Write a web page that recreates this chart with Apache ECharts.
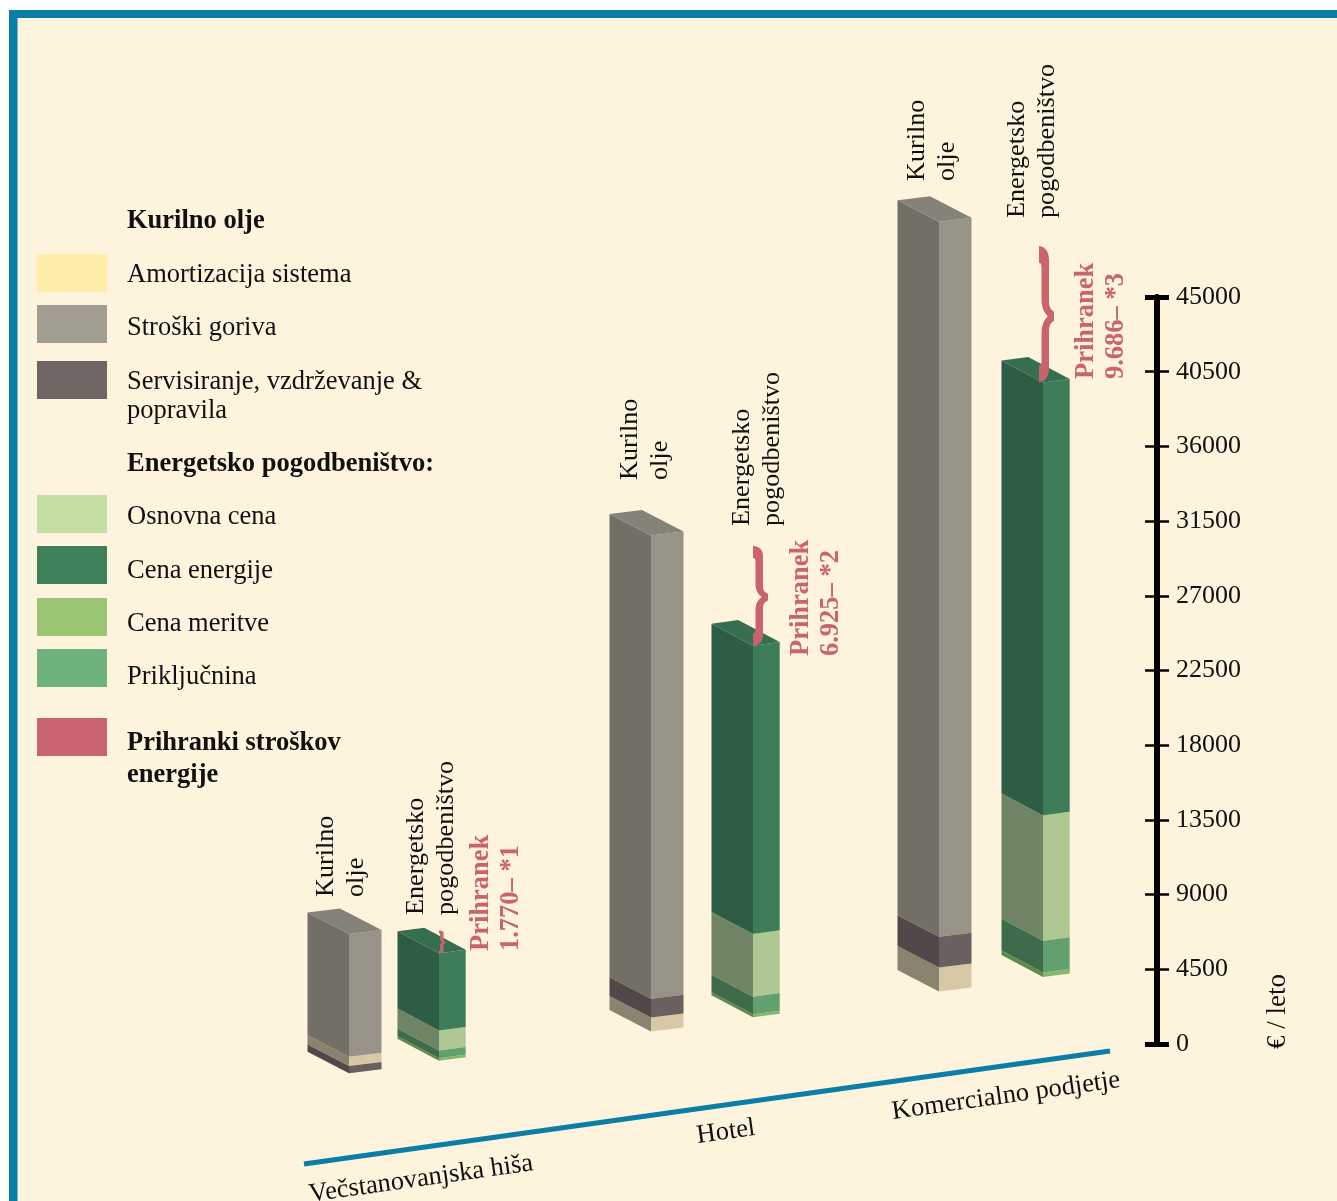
<!DOCTYPE html>
<html><head><meta charset="utf-8">
<style>html,body{margin:0;padding:0;background:#fff}#c{width:1337px;height:1201px}</style>
<script src="https://cdn.jsdelivr.net/npm/echarts@6/dist/echarts.min.js"></script>
</head><body><div id="c"></div>
<script>
// ---- data ----
const buildings = ['Večstanovanjska hiša', 'Hotel', 'Komercialno podjetje'];
const oilSlots = [0.49, 3.51, 6.39];
const contractSlots = [1.39, 4.53, 7.43];
const braceSlots = [1.39, 4.53, 7.39];
const amortizacija = [560, 840, 1450];
const gorivo = [7390, 27910, 43070];
const servis = [440, 1130, 1850];
const osnovna = [1200, 3780, 7550];
const energija = [4660, 17370, 26080];
const meritev = [160, 180, 280];
const prikljucnina = [460, 1060, 1910];
const braceHeights = [1370, 6020, 8230];
const savingsLabels = ['1.770', '6.925', '9.686'];
const yTicks = [0, 4500, 9000, 13500, 18000, 22500, 27000, 31500, 36000, 40500, 45000];

// ---- styling ----
const FONT = '"Liberation Serif","Times New Roman",serif';
const SIZE = 26.5;
const BLUE = '#0A7EA4', PINK = '#C9636F', CREAM = '#FEF3DC', INK = '#111';
const OIL = { left: 41.5, drop: 21.5, right: 32.5, rise: 4 };
const CONTRACT = { left: 41.5, drop: 22, right: 26.7, rise: 3.6 };
const GROUND_SLOPE = -0.1386, GROUND_X = 349, GROUND_DROP = 29.3;

const parts = {
  amort: { name: 'Amortizacija sistema', legend: '#FEECA8', front: '#D8C9A6', side: '#8A8370', top: '#A8A088', vals: amortizacija },
  fuel: { name: 'Stroški goriva', legend: '#A39E92', front: '#979388', side: '#726F67', top: '#85827A', vals: gorivo },
  serv: { name: 'Servisiranje, vzdrževanje & popravila', legend: '#706664', front: '#6A605F', side: '#514949', top: '#5E5554', vals: servis },
  base: { name: 'Osnovna cena', legend: '#C4DDA3', front: '#AFC893', side: '#6E8465', top: '#8FA67C', vals: osnovna },
  ener: { name: 'Cena energije', legend: '#3E8059', front: '#3E7D59', side: '#2D5D44', top: '#366F50', vals: energija },
  mete: { name: 'Cena meritve', legend: '#9BC775', front: '#85B96A', side: '#5E8A4C', top: '#72A05B', vals: meritev },
  conn: { name: 'Priključnina', legend: '#6FB27D', front: '#63A06F', side: '#3F6B4A', top: '#50855C', vals: prikljucnina }
};
const oilOrder = [['serv', 'amort', 'fuel'], ['amort', 'serv', 'fuel'], ['amort', 'serv', 'fuel']];
const contractOrder = ['mete', 'conn', 'base', 'ener'];

// build [slot, from, to, isTop, kind] rows per part
const rows = {};
Object.keys(parts).forEach(k => rows[k] = []);
function stack(order, i, slot, kind) {
  let sum = 0;
  order.forEach((k, j) => {
    const v = parts[k].vals[i];
    rows[k].push([slot, sum, sum + v, j === order.length - 1 ? 1 : 0, kind]);
    sum += v;
  });
  return sum;
}
const contractTotals = [];
buildings.forEach((b, i) => {
  stack(oilOrder[i], i, oilSlots[i], 0);
  contractTotals.push(stack(contractOrder, i, contractSlots[i], 1));
});

function groundShift(x) { return GROUND_DROP + GROUND_SLOPE * (x - GROUND_X); }

function boxRenderer(p) {
  return function (params, api) {
    const g = api.value(4) ? CONTRACT : OIL;
    const a = api.coord([api.value(0), api.value(1)]);
    const b = api.coord([api.value(0), api.value(2)]);
    const cx = a[0], sh = groundShift(cx), y0 = a[1] + sh, y1 = b[1] + sh;
    const kids = [
      { type: 'polygon', shape: { points: [[cx - g.left, y1 - g.drop], [cx, y1], [cx, y0], [cx - g.left, y0 - g.drop]] }, style: { fill: p.side } },
      { type: 'polygon', shape: { points: [[cx, y1], [cx + g.right, y1 - g.rise], [cx + g.right, y0 - g.rise], [cx, y0]] }, style: { fill: p.front } }
    ];
    if (api.value(3)) kids.push({
      type: 'polygon',
      shape: { points: [[cx, y1], [cx - g.left, y1 - g.drop], [cx - g.left + g.right, y1 - g.drop - g.rise], [cx + g.right, y1 - g.rise]] },
      style: { fill: p.top }
    });
    return { type: 'group', children: kids };
  };
}

const BRACE = 'M0,0 C6,1 10,5 10,14 L10,55 C10,62 12,64 15,66 L15,75 C12,77 10,79 10,86 L10,122 C10,132 6,136 0,137 L0,120 C2,120 2.5,118 2.5,116 L2.5,88 C2.5,78 6,73 9,70.5 C6,68 2.5,63 2.5,53 L2.5,22 C2.5,19 2,17 0,17 Z';
function braceRenderer(params, api) {
  const a = api.coord([api.value(0), api.value(1)]);
  const b = api.coord([api.value(0), api.value(2)]);
  const corner = api.coord([contractSlots[params.dataIndex], 0])[0];
  const sh = groundShift(corner);
  const h = a[1] - b[1];
  return {
    type: 'path',
    shape: { pathData: BRACE, layout: 'cover', x: a[0], y: b[1] + sh, width: Math.min(15, h * 0.3), height: h },
    style: { fill: PINK }
  };
}

const seriesList = Object.keys(parts).map(k => ({
  type: 'custom', name: parts[k].name, coordinateSystem: 'cartesian2d',
  renderItem: boxRenderer(parts[k]), data: rows[k], itemStyle: { color: parts[k].legend },
  encode: { x: 0, y: 2 }, silent: true
}));
seriesList.push({
  type: 'custom', name: 'Prihranki stroškov energije', coordinateSystem: 'cartesian2d',
  renderItem: braceRenderer, itemStyle: { color: PINK }, silent: true, z: 5,
  data: buildings.map((b, i) => [braceSlots[i], contractTotals[i], contractTotals[i] + braceHeights[i]]),
  encode: { x: 0, y: 2 }
});

// ---- legend swatches; their labels sit in the text layer below ----
const legendTops = { amort: 254, fuel: 305, serv: 361, base: 495, ener: 546, mete: 598, conn: 649 };
const legends = Object.keys(parts).map(k => ({
  left: 37, top: legendTops[k], padding: 0, selectedMode: false,
  itemWidth: 70, itemHeight: 38, icon: 'rect',
  data: [{ name: parts[k].name, itemStyle: { color: parts[k].legend } }],
  formatter: () => ''
}));
legends.push({
  left: 37, top: 718, padding: 0, selectedMode: false, itemWidth: 70, itemHeight: 38, icon: 'rect',
  data: [{ name: 'Prihranki stroškov energije', itemStyle: { color: PINK } }],
  formatter: () => ''
});

// ---- text and frame ----
function text(x, y, str, o) {
  o = o || {};
  return {
    type: 'text', x, y, rotation: o.rot || 0, z: 20,
    style: {
      text: str, fill: o.fill || INK, align: o.align || 'left', verticalAlign: 'middle',
      lineHeight: o.lh || 30, font: (o.bold ? 'bold ' : '') + (o.size || SIZE) + 'px ' + FONT
    }
  };
}
const UP = Math.PI / 2, TILT = 0.14, ROT_SIZE = 26.2;
const graphics = [
  { type: 'rect', z: -10, shape: { x: 9, y: 10, width: 1328, height: 1191 }, style: { fill: CREAM } },
  { type: 'rect', z: -9, shape: { x: 9, y: 10, width: 1328, height: 8 }, style: { fill: BLUE } },
  { type: 'rect', z: -9, shape: { x: 9, y: 10, width: 8.5, height: 1191 }, style: { fill: BLUE } },
  { type: 'line', z: 1, shape: { x1: 304, y1: 1164, x2: 1110, y2: 1051 }, style: { stroke: BLUE, lineWidth: 5 } },
  text(127, 221, 'Kurilno olje', { bold: true }),
  text(127, 275, parts.amort.name),
  text(127, 328, parts.fuel.name),
  text(127, 396.5, 'Servisiranje, vzdrževanje &\npopravila', { lh: 29.5 }),
  text(127, 464, 'Energetsko pogodbeništvo:', { bold: true }),
  text(127, 517, parts.base.name),
  text(127, 571, parts.ener.name),
  text(127, 624, parts.mete.name),
  text(127, 677, parts.conn.name),
  text(127, 759, 'Prihranki stroškov\nenergije', { bold: true, lh: 32 }),
  text(1278, 1049, '€ / leto', { rot: UP, size: 27 }),
  text(421, 1179, buildings[0], { rot: TILT, align: 'center' }),
  text(726, 1132, buildings[1], { rot: TILT, align: 'center' }),
  text(1006, 1096, buildings[2], { rot: TILT, align: 'center' })
];
const oilTextPos = [[341, 897], [645, 480], [932, 181]];
const contractTextPos = [[431, 915], [757, 526], [1032, 218]];
const saveTextPos = [[496, 951], [816, 656], [1101.5, 379]];
buildings.forEach((b, i) => {
  graphics.push(text(oilTextPos[i][0], oilTextPos[i][1], 'Kurilno\nolje', { rot: UP, size: ROT_SIZE }));
  graphics.push(text(contractTextPos[i][0], contractTextPos[i][1], 'Energetsko\npogodbeništvo', { rot: UP, size: ROT_SIZE }));
  graphics.push(text(saveTextPos[i][0], saveTextPos[i][1], 'Prihranek\n' + savingsLabels[i] + '– *' + (i + 1), { rot: UP, bold: true, fill: PINK, lh: 30 }));
});

// ---- axes: the tick crosses the spine, ends are heavier ----
function tickAxis(interval, width, inside, labels) {
  return {
    type: 'value', position: 'right', min: yTicks[0], max: yTicks[yTicks.length - 1], interval,
    splitLine: { show: false },
    axisLine: { show: labels, onZero: false, lineStyle: { color: '#000', width: 6 } },
    axisTick: { show: true, inside, length: 12, lineStyle: { color: '#000', width } },
    axisLabel: {
      show: labels, margin: 19, fontFamily: FONT, fontSize: 26, color: INK,
      formatter: v => String(v)
    }
  };
}

const myChart = echarts.init(document.getElementById('c'), null, { renderer: 'canvas', width: 1337, height: 1201 });
myChart.setOption({
  animation: false,
  backgroundColor: '#fff',
  textStyle: { fontFamily: FONT },
  grid: { left: 300, right: 180, top: 297, bottom: 157, containLabel: false },
  xAxis: { type: 'value', min: 0, max: 8.57, show: false },
  yAxis: [
    tickAxis(4500, 2.5, false, true),
    tickAxis(4500, 2.5, true, false),
    tickAxis(45000, 5, false, false),
    tickAxis(45000, 5, true, false)
  ],
  legend: legends,
  graphic: graphics,
  series: seriesList
});
</script></body></html>
